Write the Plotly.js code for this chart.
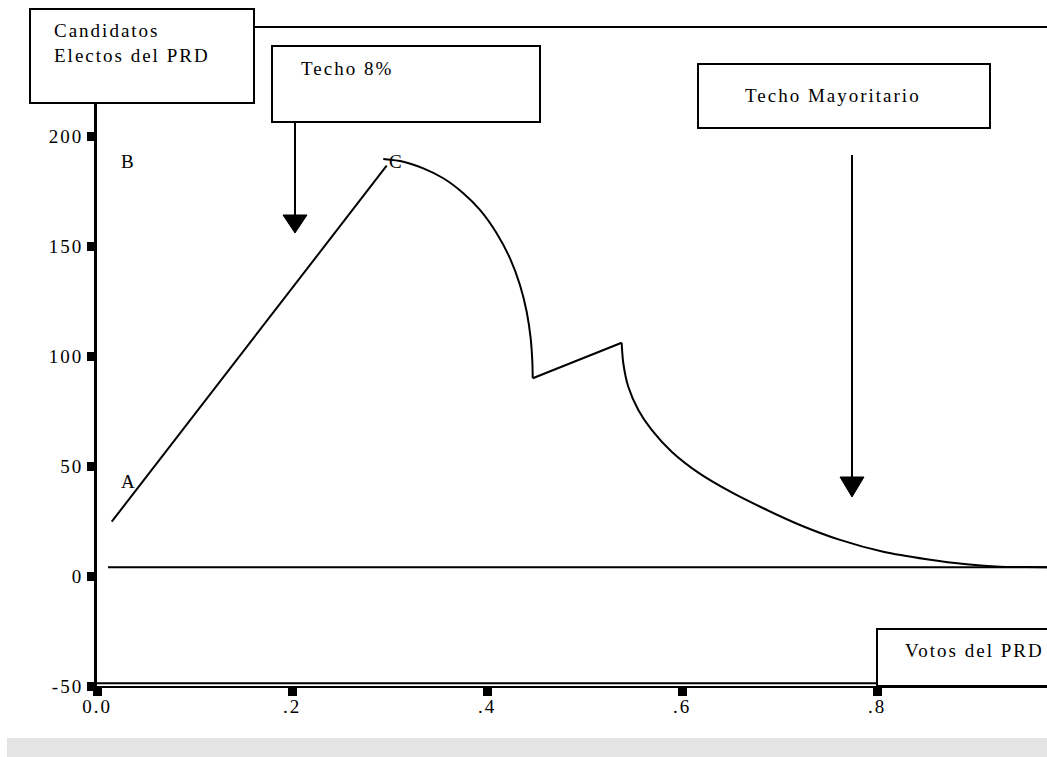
<!DOCTYPE html>
<html><head><meta charset="utf-8">
<script src="https://cdn.plot.ly/plotly-3.0.1.min.js"></script>
<style>
html,body{margin:0;padding:0;background:#fff;}
#chart{width:1047px;height:757px;}
#chart text{letter-spacing:2px;}
</style></head><body><div id="chart"></div>
<script>
// ---- data ----
const riseX = [0.0151, 0.2971];
const riseY = [24.7, 186.5];
const arcX = [0.2936,0.3142,0.3347,0.3552,0.3757,0.3928,0.4099,0.4236,0.4338,0.4407,0.4448,0.4465,0.4469];
const arcY = [189.5,188.3,185.3,180.8,174.0,166.4,155.8,144.4,132.3,120.1,108.0,97.4,89.9];
const jumpX = [0.4469, 0.5381];
const jumpY = [89.9, 106.0];
const decayX = [0.5381,0.5398,0.5449,0.5552,0.5689,0.5894,0.6167,0.6510,0.6834,0.7210,0.7621,0.8064,0.8510,0.8920,0.9262,0.9536,1.0];
const decayY = [106.0,96.7,86.0,75.5,66.4,56.5,47.0,38.0,30.8,23.2,16.4,11.0,7.6,5.3,4.2,4.05,4.0];
const baseX = [0.0113, 1.0];
const baseY = [4, 4];
const xTickVals = [0, 0.2, 0.4, 0.6, 0.8];
const xTickText = ['0.0', '.2', '.4', '.6', '.8'];
const yTickVals = [-50, 0, 50, 100, 150, 200];
const yTickText = ['-50', '0', '50', '100', '150', '200'];
const pointLabels = ['A', 'B', 'C'];
const pointX = [0.0331, 0.0318, 0.3067];
const pointY = [42.9, 188.5, 188.3];
const boxTexts = ['Candidatos<br>Electos del PRD', 'Techo 8%', 'Techo Mayoritario', 'Votos del PRD'];

// ---- layout helpers (pixel -> paper) ----
const L = 97, R = 1047, T = 27, B = 686;
const px = x => (x - L) / (R - L);
const py = y => (B - y) / (B - T);
const FONT = {family: 'Liberation Serif', size: 19, color: '#000'};

const lineStyle = {color: '#000', width: 2};
const smooth = {color: '#000', width: 2, shape: 'spline', smoothing: 0.8};
const traces = [
  {x: riseX, y: riseY, mode: 'lines', line: lineStyle, hoverinfo: 'skip'},
  {x: arcX, y: arcY, mode: 'lines', line: smooth, hoverinfo: 'skip'},
  {x: jumpX, y: jumpY, mode: 'lines', line: lineStyle, hoverinfo: 'skip'},
  {x: decayX, y: decayY, mode: 'lines', line: smooth, hoverinfo: 'skip'},
  {x: baseX, y: baseY, mode: 'lines', line: lineStyle, hoverinfo: 'skip'}
];

function rect(x0, y0, x1, y1) {
  return {type: 'rect', xref: 'paper', yref: 'paper', x0: px(x0), x1: px(x1), y0: py(y0), y1: py(y1),
          fillcolor: '#fff', line: {color: '#000', width: 2}, layer: 'above'};
}
function seg(x0, y0, x1, y1, w) {
  return {type: 'line', xref: 'paper', yref: 'paper', x0: px(x0), x1: px(x1), y0: py(y0), y1: py(y1),
          line: {color: '#000', width: w || 2}, layer: 'above'};
}
function tri(xc, ytop, halfw, h) {
  return {type: 'path', xref: 'paper', yref: 'paper', layer: 'above',
          path: `M ${px(xc - halfw)} ${py(ytop)} L ${px(xc + halfw)} ${py(ytop)} L ${px(xc)} ${py(ytop + h)} Z`,
          fillcolor: '#000', line: {color: '#000', width: 1}};
}

const shapes = [
  {type: 'rect', xref: 'paper', yref: 'paper', x0: px(7), x1: px(1060), y0: py(738), y1: py(770),
   fillcolor: '#e4e4e4', line: {width: 0}, layer: 'above'},
  seg(254, 27, 1060, 27, 2),
  seg(97, 683.3, 1060, 683.3, 2),
  rect(30, 9, 254, 103),
  rect(272, 46, 540, 122),
  rect(698, 64, 990, 128),
  rect(877, 629, 1070, 686),
  seg(295, 122, 295, 216, 2),
  tri(295, 215, 12, 18),
  seg(852, 155, 852, 478, 2),
  tri(852, 477, 12, 20)
];

const annotations = [
  {xref: 'paper', yref: 'paper', x: px(52), y: py(43), text: boxTexts[0], align: 'left'},
  {xref: 'paper', yref: 'paper', x: px(299), y: py(68), text: boxTexts[1], align: 'left'},
  {xref: 'paper', yref: 'paper', x: px(743), y: py(95), text: boxTexts[2], align: 'left'},
  {xref: 'paper', yref: 'paper', x: px(903), y: py(650), text: boxTexts[3], align: 'left'}
].map(a => Object.assign(a, {xanchor: 'left', yanchor: 'middle', showarrow: false, font: FONT}));

pointLabels.forEach((t, i) => annotations.push({
  xref: 'x', yref: 'y', x: pointX[i], y: pointY[i], text: t, showarrow: false,
  xanchor: 'center', yanchor: 'middle', font: FONT
}));

const axisCommon = {showline: true, linecolor: '#000', ticks: 'outside', tickcolor: '#000',
                    showgrid: false, zeroline: false, tickfont: FONT, fixedrange: true};

const layout = {
  width: 1047, height: 757,
  margin: {l: L, r: 1047 - R, t: T, b: 757 - B},
  paper_bgcolor: '#fff', plot_bgcolor: '#fff',
  showlegend: false,
  xaxis: Object.assign({}, axisCommon, {range: [0, (R - L) / 975], tickvals: xTickVals, ticktext: xTickText,
          linewidth: 2, ticklen: 8, tickwidth: 9, ticklabelstandoff: -6}),
  yaxis: Object.assign({}, axisCommon, {range: [-50, -50 + (B - T) / 2.2], tickvals: yTickVals, ticktext: yTickText,
          linewidth: 3, ticklen: 7, tickwidth: 9, ticklabelstandoff: 0}),
  shapes: shapes,
  annotations: annotations
};

Plotly.newPlot('chart', traces, layout, {displayModeBar: false, staticPlot: true});
</script>
</body></html>
